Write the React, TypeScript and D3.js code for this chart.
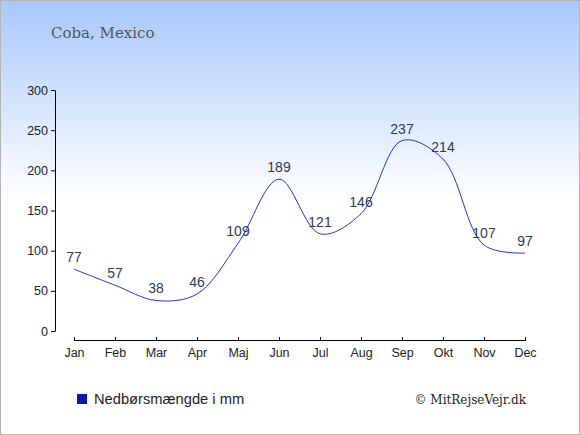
import React, { useEffect, useRef } from 'react';
import * as d3 from 'd3';

const months = ['Jan', 'Feb', 'Mar', 'Apr', 'Maj', 'Jun', 'Jul', 'Aug', 'Sep', 'Okt', 'Nov', 'Dec'];
const rainfall = [77, 57, 38, 46, 109, 189, 121, 146, 237, 214, 107, 97];
const yTicks = [0, 50, 100, 150, 200, 250, 300];

const W = 580;
const H = 435;

const App: React.FC = () => {
  const svgRef = useRef<SVGSVGElement>(null);

  useEffect(() => {
    if (!svgRef.current) return;
    const svg = d3.select(svgRef.current);
    svg.selectAll('*').remove();

    const defs = svg.append('defs');
    const grad = defs.append('linearGradient')
      .attr('id', 'bg')
      .attr('x1', 0).attr('y1', 0).attr('x2', 0).attr('y2', 1);
    grad.append('stop').attr('offset', '0%').attr('stop-color', '#a8c8fc');
    grad.append('stop').attr('offset', '46%').attr('stop-color', '#ffffff');
    grad.append('stop').attr('offset', '100%').attr('stop-color', '#ffffff');

    svg.append('rect')
      .attr('x', 0.5).attr('y', 0.5)
      .attr('width', W - 1).attr('height', H - 1)
      .attr('fill', 'url(#bg)')
      .attr('stroke', '#b4b4b4');

    svg.append('text')
      .attr('x', 51).attr('y', 38)
      .attr('font-family', '"DejaVu Serif", "Liberation Serif", serif')
      .attr('font-size', 15)
      .attr('fill', '#555555')
      .text('Coba, Mexico');

    const x = d3.scalePoint<string>().domain(months).range([74, 525]);
    const y = d3.scaleLinear().domain([0, 300]).range([331, 90]);

    const font = '"Liberation Sans", Arial, sans-serif';

    // y axis
    const yAxis = svg.append('g')
      .attr('transform', 'translate(55,0)')
      .call(d3.axisLeft(y).tickValues(yTicks).tickSize(4).tickSizeOuter(0).tickPadding(3));
    yAxis.select('.domain').attr('stroke', '#000');
    yAxis.selectAll('text').attr('font-family', font).attr('font-size', 12.5).attr('fill', '#222');

    // x axis
    const xAxis = svg.append('g')
      .attr('transform', 'translate(0,340)')
      .call(d3.axisBottom(x).tickSize(4).tickSizeOuter(0).tickPadding(4));
    xAxis.select('.domain').attr('d', `M${x('Jan')},0.5H${x('Dec')}`).attr('stroke', '#000');
    xAxis.selectAll('.tick line').attr('y1', -3).attr('y2', 1);
    xAxis.selectAll('text').attr('font-family', font).attr('font-size', 12.5).attr('fill', '#222');

    const line = d3.line<number>()
      .x((_, i) => x(months[i]) as number)
      .y(d => y(d))
      .curve(d3.curveCatmullRom.alpha(0.5));

    svg.append('path')
      .datum(rainfall)
      .attr('d', line)
      .attr('fill', 'none')
      .attr('stroke', '#2236c4')
      .attr('stroke-width', 1);

    svg.selectAll('.lbl')
      .data(rainfall)
      .enter().append('text')
      .attr('class', 'lbl')
      .attr('x', (_, i) => x(months[i]) as number)
      .attr('y', d => y(d) - 7)
      .attr('text-anchor', 'middle')
      .attr('font-family', font)
      .attr('font-size', 14)
      .attr('fill', '#2e3a55')
      .text(d => d);

    // legend
    svg.append('rect')
      .attr('x', 77).attr('y', 394)
      .attr('width', 10).attr('height', 10)
      .attr('fill', '#0a1aa8');
    svg.append('text')
      .attr('x', 94).attr('y', 404)
      .attr('font-family', font)
      .attr('font-size', 14.7)
      .attr('fill', '#222')
      .text('Nedbørsmængde i mm');

    svg.append('text')
      .attr('x', 526).attr('y', 404)
      .attr('text-anchor', 'end')
      .attr('font-family', '"DejaVu Serif", "Liberation Serif", serif')
      .attr('font-size', 12)
      .attr('fill', '#222')
      .text('© MitRejseVejr.dk');
  }, []);

  return (
    <div style={{ position: 'fixed', left: 0, top: 0 }}>
      <svg ref={svgRef} width={W} height={H} style={{ display: 'block' }} />
    </div>
  );
};

export default App;
